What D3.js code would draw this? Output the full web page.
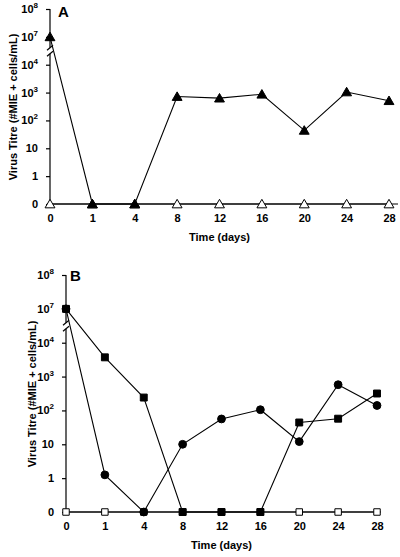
<!DOCTYPE html>
<html><head><meta charset="utf-8">
<script src="https://cdn.jsdelivr.net/npm/d3@7"></script>
<style>body{margin:0;background:#fff}svg{display:block}text{font-family:"Liberation Sans",Arial,sans-serif;font-weight:bold;fill:#000}</style>
</head><body><svg id="c" width="400" height="557"></svg>
<script>
const days = ["0","1","4","8","12","16","20","24","28"];
const yLevels = [0, 1, 10, 1e2, 1e3, 1e4, 1e7, 1e8];
const yLabels = [["0",""],["1",""],["10",""],["10","2"],["10","3"],["10","4"],["10","7"],["10","8"]];
// Panel A
const aFilled = [1e7, 0, 0, 720, 630, 870, 44, 1050, 510];
const aOpen   = [0, 0, 0, 0, 0, 0, 0, 0, 0];
// Panel B
const bSquares = [1e7, 3700, 240, 0, 0, 0, 44, 57, 316];
const bCircles = [1e7, 1.25, 0, 10, 56, 105, 12, 575, 140];
const bOpen    = [0, 0, 0, 0, 0, 0, 0, 0, 0];

function level(v){ if(v<=0) return 0; const l=Math.log10(v); return l<=4 ? l+1 : l-1; }

const svg = d3.select("#c");

function panel(cfg){
  const g = svg.append("g");
  const x = d3.scalePoint().domain(days).range([cfg.x0, cfg.x1]);
  const y = d3.scaleLinear().domain([0,7]).range([cfg.y0, cfg.y1]);
  // x axis
  const xa = g.append("g").attr("transform",`translate(0,${cfg.y0})`)
    .call(d3.axisBottom(x).tickSize(0).tickPadding(10));
  xa.select(".domain").attr("d",`M${cfg.x0},0H${cfg.xEnd}`).attr("stroke","#000").attr("stroke-width",1.2);
  xa.selectAll("text").attr("font-size",11).attr("font-family",null).attr("font-weight","bold");
  // y axis
  const ya = g.append("g").attr("transform",`translate(${cfg.x0},0)`)
    .call(d3.axisLeft(y).tickValues(d3.range(8)).tickSize(4).tickPadding(8).tickFormat(""));
  ya.select(".domain").remove();
  ya.selectAll(".tick line").attr("stroke","#000").attr("stroke-width",1.2);
  ya.selectAll(".tick text").each(function(d){
    const t = d3.select(this).attr("font-size",11).attr("font-family",null).attr("font-weight","bold");
    t.text(null);
    t.append("tspan").text(yLabels[d][0]);
    if(yLabels[d][1]) t.append("tspan").attr("font-size",8).attr("dy",-5).text(yLabels[d][1]);
  });
  // axis line with break
  const brk = (y(5)+y(6))/2;
  g.append("line").attr("x1",cfg.x0).attr("x2",cfg.x0).attr("y1",y(7)).attr("y2",brk-3).attr("stroke","#000").attr("stroke-width",1.2);
  g.append("line").attr("x1",cfg.x0).attr("x2",cfg.x0).attr("y1",brk+3).attr("y2",y(0)).attr("stroke","#000").attr("stroke-width",1.2);
  [-3,3].forEach(o=>{
    g.append("line").attr("x1",cfg.x0-3).attr("x2",cfg.x0+3).attr("y1",brk+o+2.5).attr("y2",brk+o-2.5).attr("stroke","#000").attr("stroke-width",1.2);
  });
  // labels
  g.append("text").attr("x",cfg.lx).attr("y",cfg.ly).attr("font-size",15).text(cfg.letter);
  g.append("text").attr("x",(cfg.x0+cfg.x1)/2).attr("y",cfg.y0+37).attr("text-anchor","middle").attr("font-size",11).text("Time (days)");
  g.append("text").attr("transform",`translate(${cfg.tx},${cfg.ty}) rotate(-90)`).attr("text-anchor","middle").attr("font-size",11).text("Virus Titre (#MIE + cells/mL)");
  // series
  const line = d3.line().x((d,i)=>x(days[i])).y(d=>y(level(d)));
  cfg.series.forEach(s=>{
    g.append("path").attr("d",line(s.values)).attr("fill","none").attr("stroke","#000").attr("stroke-width",1.1);
  });
  cfg.series.forEach(s=>{
    const sym = d3.symbol().type(s.type).size(s.size);
    g.selectAll(null).data(s.values).join("path")
      .attr("d",sym).attr("transform",(d,i)=>`translate(${x(days[i])},${y(level(d))+(s.type===d3.symbolTriangle?1:0)})`)
      .attr("fill",s.filled?"#000":"#fff").attr("stroke","#000").attr("stroke-width",1);
  });
}

panel({x0:50,x1:389,xEnd:398,y0:204,y1:9,letter:"A",lx:58,ly:17,tx:17,ty:107,
  series:[
    {values:aOpen,type:d3.symbolTriangle,size:42,filled:false},
    {values:aFilled,type:d3.symbolTriangle,size:42,filled:true}
  ]});
panel({x0:66,x1:377,xEnd:381,y0:512,y1:275,letter:"B",lx:70,ly:281,tx:36,ty:394,
  series:[
    {values:bOpen,type:d3.symbolSquare,size:42,filled:false},
    {values:bCircles,type:d3.symbolCircle,size:48,filled:true},
    {values:bSquares,type:d3.symbolSquare,size:48,filled:true}
  ]});
</script></body></html>
